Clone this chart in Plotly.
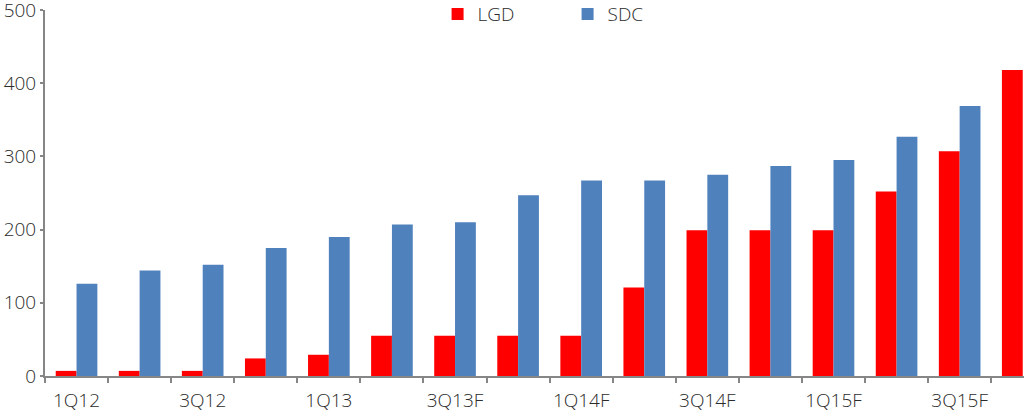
import plotly.graph_objects as go

categories = ["1Q12", "2Q12", "3Q12", "4Q12", "1Q13", "2Q13", "3Q13F", "4Q13F",
              "1Q14F", "2Q14F", "3Q14F", "4Q14F", "1Q15F", "2Q15F", "3Q15F", "4Q15F"]
lgd = [7, 7, 7, 24, 29, 55, 55, 55, 55, 121, 199, 199, 199, 252, 307, 418]
sdc = [126, 144, 152, 175, 190, 207, 210, 247, 267, 267, 275, 287, 295, 327, 369, None]
y_ticks = [0, 100, 200, 300, 400, 500]

x = list(range(len(categories)))
label_idx = x[::2]

FONT = "Open Sans"
TXT = "#2b2b2b"
AX = "#868686"
FS = 19

fig = go.Figure()
fig.add_trace(go.Bar(x=x, y=lgd, name="LGD", marker=dict(color="#FF0000", line=dict(width=0))))
fig.add_trace(go.Bar(x=x, y=sdc, name="SDC", marker=dict(color="#4F81BD", line=dict(width=0))))

fig.update_layout(
    width=1024, height=413,
    margin=dict(l=45, r=0, t=10, b=37, autoexpand=False),
    paper_bgcolor="white", plot_bgcolor="white",
    barmode="group", bargap=0.34, bargroupgap=0,
    font=dict(family=FONT, size=FS, color=TXT, weight=300),
    showlegend=True,
    legend=dict(orientation="h", x=0.401, y=0.989, xanchor="left", yanchor="middle",
                entrywidth=85, entrywidthmode="pixels",
                font=dict(family=FONT, size=FS, color=TXT, weight=300),
                bgcolor="rgba(0,0,0,0)", itemwidth=30, traceorder="normal"),
    xaxis=dict(
        range=[-0.5, 15.02], tickmode="array", tickvals=label_idx,
        ticktext=[categories[i] for i in label_idx],
        ticks="", showline=True, linecolor=AX, linewidth=2,
        showgrid=False, zeroline=False, ticklabelstandoff=6, automargin=False,
        tickfont=dict(family=FONT, size=FS, color=TXT, weight=300),
        minor=dict(tickmode="array", tickvals=[i - 0.5 for i in x], ticks="outside",
                   ticklen=5, tickwidth=2, tickcolor=AX, showgrid=False),
    ),
    yaxis=dict(
        range=[0, 500], tickmode="array", tickvals=y_ticks,
        ticks="outside", ticklen=3, tickwidth=2, tickcolor=AX,
        showline=True, linecolor=AX, linewidth=2, automargin=False,
        showgrid=False, zeroline=False, ticklabeloverflow="allow",
        tickfont=dict(family=FONT, size=FS, color=TXT, weight=300),
    ),
)

fig.write_html("out.html", config={"displayModeBar": False},
               post_script="document.body.style.margin='0';")
